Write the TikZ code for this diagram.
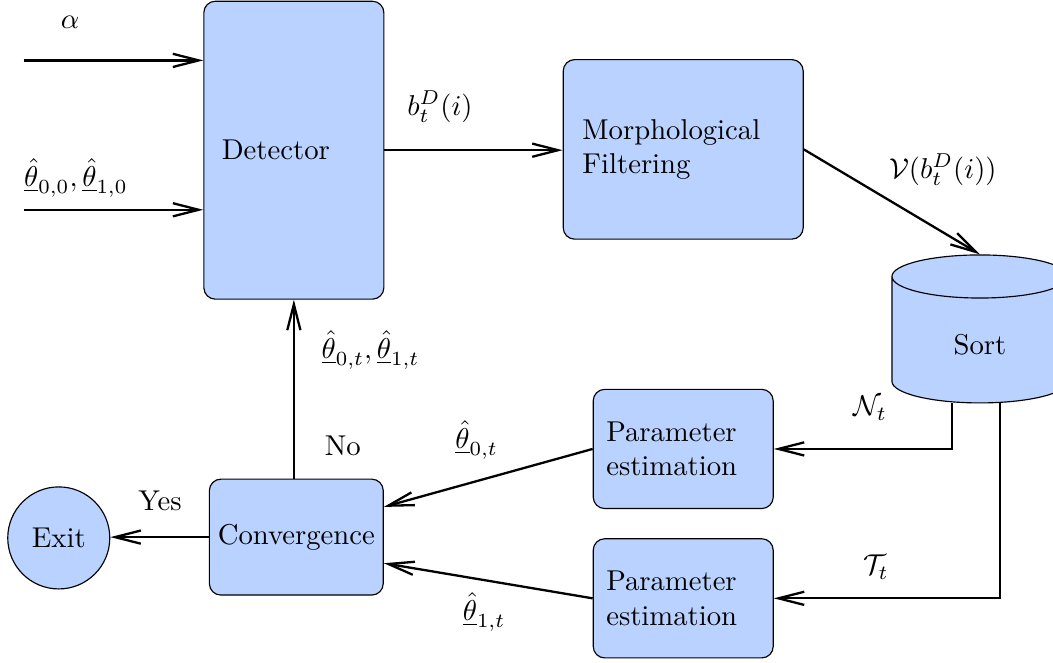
\documentclass[tikz,border=0pt]{standalone}
\usetikzlibrary{arrows.meta,calc,shapes.geometric}
\definecolor{boxblue}{RGB}{186,210,255}
\tikzset{
  block/.style={draw, fill=boxblue, rounded corners, align=left},
  >={Straight Barb[length=9pt,width=4.6pt]}
}
\begin{document}
\begin{tikzpicture}[every node/.style={font=\normalsize}]
        \useasboundingbox (0,0) rectangle (12.9,8.11);
        % blocks
        \node[block, text width=1.765cm, inner xsep=0.22cm, minimum height=3.65cm] (det) at (3.6,6.27) {Detector};
        \node[block, text width=2.47cm, inner xsep=0.235cm, minimum height=2.2cm] (morph) at (8.37,6.28) {Morphological\\Filtering};
        \node[draw, fill=boxblue, cylinder, shape border rotate=90, aspect=0.6, minimum width=2.156cm, minimum height=1.813cm] (sort) at (12.005,3.885) {Sort};
        \node[block, text width=1.885cm, inner xsep=0.16cm, minimum height=1.46cm] (par0) at (8.37,2.61) {Parameter\\estimation};
        \node[block, text width=1.885cm, inner xsep=0.16cm, minimum height=1.46cm] (par1) at (8.37,0.78) {Parameter\\estimation};
        \node[block, align=center, minimum width=2.13cm, minimum height=1.42cm, inner xsep=2pt] (conv) at (3.63,1.53) {Convergence};
        \node[draw, fill=boxblue, circle, minimum size=1.25cm] (exit) at (0.72,1.52) {Exit};
        % inputs
        \coordinate (inA) at (0.29,7.37);
        \coordinate (inT) at (0.29,5.54);
        \draw[->,thick] (inA) -- (inA -| det.west);
        \draw[->,thick] (inT) -- (inT -| det.west);
        \node (lalpha) at (0.86,7.84) {$\alpha$};
        \node (linit) at (0.93,5.93) {$\underline{\hat{\theta}}_{0,0},\underline{\hat{\theta}}_{1,0}$};
        % main loop
        \draw[->,thick] (det.east) -- (det.east -| morph.west);
        \node (lbd) at (5.39,6.80) {$b_t^D(i)$};
        \draw[->,thick] (morph.east) -- (sort.north);
        \node (lv) at (11.55,6.03) {$\mathcal{V}(b_t^D(i))$};
        \draw[->,thick] ($(sort.south)+(-0.345,0)$) |- (par0.east);
        \draw[->,thick] ($(sort.south)+(0.245,0)$) |- (par1.east);
        \node (ln) at (10.66,3.11) {$\mathcal{N}_t$};
        \node (ltt) at (10.73,1.16) {$\mathcal{T}_t$};
        \draw[->,thick] (par0.west) -- ($(conv.east)+(0,0.37)$);
        \draw[->,thick] (par1.west) -- ($(conv.east)+(0,-0.32)$);
        \node (lt0) at (5.84,2.72) {$\underline{\hat{\theta}}_{0,t}$};
        \node (lt1) at (5.93,0.61) {$\underline{\hat{\theta}}_{1,t}$};
        \draw[->,thick] (det.south |- conv.north) -- (det.south);
        \node (lfb) at (4.54,3.82) {$\underline{\hat{\theta}}_{0,t},\underline{\hat{\theta}}_{1,t}$};
        \node (lno) at (4.20,2.65) {No};
        \draw[->,thick] (conv.west) -- (conv.west -| exit.east);
        \node (lyes) at (1.96,1.98) {Yes};
    \end{tikzpicture}
\end{document}
